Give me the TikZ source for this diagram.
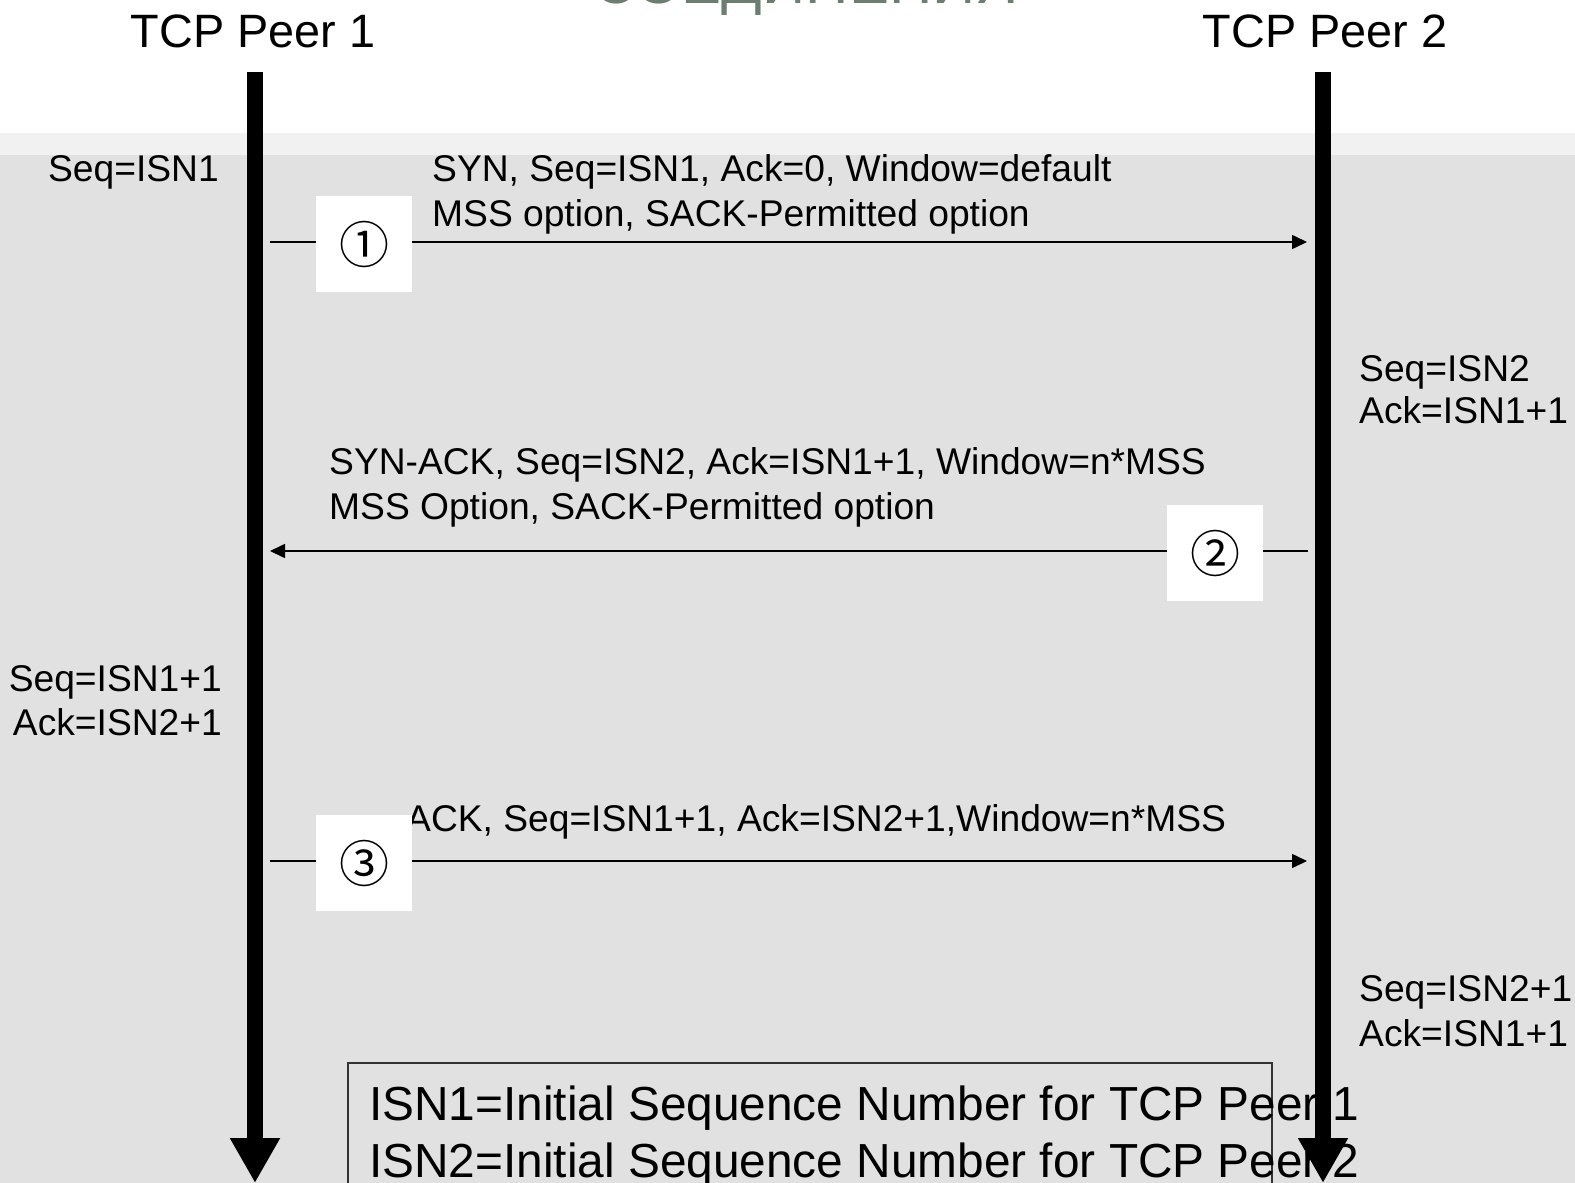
\documentclass[tikz,border=0pt]{standalone}
\usepackage{fontspec}
\setmainfont{Liberation Sans}
\newfontfamily\symfont{Noto Sans CJK JP}
\usetikzlibrary{arrows.meta}
\definecolor{bggray}{RGB}{225,225,225}
\definecolor{bandgray}{RGB}{241,241,241}
\definecolor{titlegreen}{RGB}{108,126,112}
\tikzset{
  lbl/.style={inner sep=0pt, font=\fontsize{37.2}{44}\selectfont},
  hdr/.style={inner sep=0pt, font=\fontsize{46.8}{56}\selectfont},
  legend/.style={inner sep=0pt, font=\fontsize{47.8}{57}\selectfont},
  lifeline/.style={line width=16.5pt, -{Triangle[length=45pt,width=47pt]}},
  msg/.style={line width=1.6pt, -{Triangle[length=15pt,width=14pt]}},
  stepnum/.style={fill=white, minimum width=96pt, minimum height=96pt, inner sep=0pt,
    font=\symfont\fontsize{50}{50}\selectfont}
}
\begin{document}
\begin{tikzpicture}[x=1pt,y=-1pt]
% page frame and backdrop
\useasboundingbox (0,0) rectangle (1575,1183);
\clip (0,0) rectangle (1575,1183);
\fill[white] (0,0) rectangle (1575,133);
\fill[bandgray] (0,133) rectangle (1575,155);
\fill[bggray] (0,155) rectangle (1575,1183);

% slide title, mostly above the page
\node[inner sep=0pt, anchor=base, text=titlegreen,
  font=\fontsize{60}{60}\selectfont] (title) at (806,3) {СОЕДИНЕНИЯ};

% peer headings
\node[hdr, anchor=base] (h1) at (253,47) {TCP Peer 1};
\node[hdr, anchor=base] (h2) at (1325,47) {TCP Peer 2};

% lifeline end points
\coordinate (p1top) at (255,72);
\coordinate (p1bot) at (255,1183);
\coordinate (p2top) at (1323,72);
\coordinate (p2bot) at (1323,1183);

% legend box
\draw[line width=1.5pt, draw=black!80] (348,1190) -- (348,1063) -- (1272,1063) -- (1272,1190);
\node[legend, anchor=base west] (leg1) at (369,1120) {ISN1=Initial Sequence Number for TCP Peer 1};
\node[legend, anchor=base west] (leg2) at (369,1177) {ISN2=Initial Sequence Number for TCP Peer 2};

% state labels beside the lifelines
\node[lbl, anchor=base east] (s1) at (219,181) {Seq=ISN1};
\node[lbl, anchor=base west] (s2a) at (1359,381) {Seq=ISN2};
\node[lbl, anchor=base west] (s2b) at (1359,423) {Ack=ISN1+1};
\node[lbl, anchor=base east] (s3a) at (222,691) {Seq=ISN1+1};
\node[lbl, anchor=base east] (s3b) at (222,735) {Ack=ISN2+1};
\node[lbl, anchor=base west] (s4a) at (1359,1001) {Seq=ISN2+1};
\node[lbl, anchor=base west] (s4b) at (1359,1046) {Ack=ISN1+1};

% segment descriptions
\node[lbl, anchor=base west] (t1a) at (432,181) {SYN, Seq=ISN1, Ack=0, Window=default};
\node[lbl, anchor=base west] (t1b) at (432,226) {MSS option, SACK-Permitted option};
\node[lbl, anchor=base west] (t2a) at (329,474) {SYN-ACK, Seq=ISN2, Ack=ISN1+1, Window=n*MSS};
\node[lbl, anchor=base west] (t2b) at (329,519) {MSS Option, SACK-Permitted option};
\node[lbl, anchor=base west] (t3) at (406,831) {ACK, Seq=ISN1+1, Ack=ISN2+1,Window=n*MSS};

% message arrows
\coordinate (m1s) at (270,242);
\coordinate (m1e) at (1307,242);
\coordinate (m2s) at (1308,551);
\coordinate (m2e) at (270,551);
\coordinate (m3s) at (270,861);
\coordinate (m3e) at (1307,861);
\draw[msg] (m1s) -- (m1e);
\draw[msg] (m2s) -- (m2e);
\draw[msg] (m3s) -- (m3e);

% step numbers
\node[stepnum] (n1) at (364,244) {①};
\node[stepnum] (n2) at (1215,553) {②};
\node[stepnum] (n3) at (364,863) {③};

% lifelines
\draw[lifeline] (p1top) -- (p1bot);
\draw[lifeline] (p2top) -- (p2bot);
\end{tikzpicture}
\end{document}
